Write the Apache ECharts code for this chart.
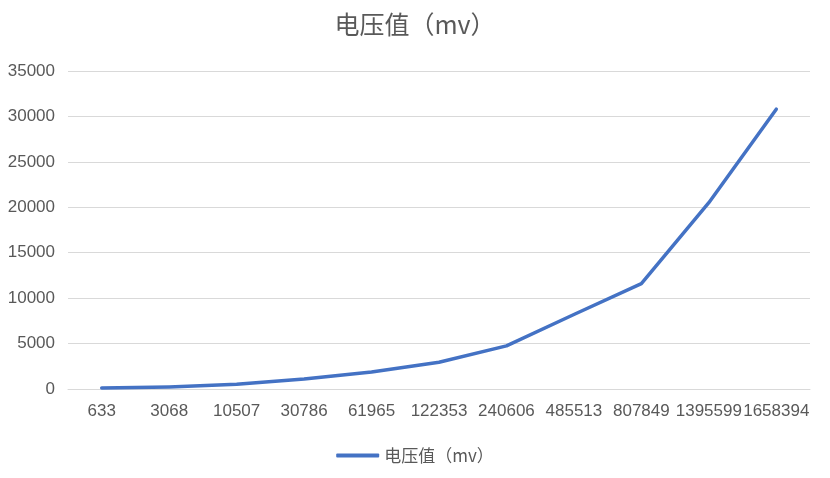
<!DOCTYPE html>
<html>
<head>
<meta charset="utf-8">
<script src="https://cdn.jsdelivr.net/npm/echarts@6/dist/echarts.min.js"></script>
<style>
	html, body { margin: 0; padding: 0; background: #fff; }
	#main { width: 830px; height: 478px; }
</style>
</head>
<body>
<div id="main"></div>
<script>
// 电压值折线图
var titleText = '电压值（mv）';
var categories = ['633', '3068', '10507', '30786', '61965', '122353', '240606', '485513', '807849', '1395599', '1658394'];
var voltage = [100, 230, 520, 1100, 1870, 2950, 4750, 8200, 11600, 20500, 30800];

var textColor = '#595959';
var gridColor = '#d9d9d9';
var numFont = '"Liberation Sans", "Noto Sans CJK SC", sans-serif';
var cjkFont = '"Noto Sans CJK SC", "Liberation Sans", sans-serif';

var dom = document.getElementById('main');
var myChart = echarts.init(dom);

var option = {
	backgroundColor : '#fff',
	animation : false,
	title : {
		text : titleText,
		left : 'center',
		top : 7,
		textStyle : {
			color : textColor,
			fontSize : 25,
			fontWeight : 'normal',
			fontFamily : cjkFont
		}
	},
	legend : {
		data : [ titleText ],
		bottom : 9,
		left : 'center',
		icon : 'roundRect',
		itemWidth : 43,
		itemHeight : 4,
		itemGap : 10,
		textStyle : {
			color : textColor,
			fontSize : 17,
			fontFamily : cjkFont
		}
	},
	grid : {
		left : 68,
		right : 20,
		top : 71,
		bottom : 89,
		containLabel : false
	},
	xAxis : {
		type : 'category',
		data : categories,
		boundaryGap : true,
		axisLine : {
			lineStyle : {
				color : gridColor,
				width : 1
			}
		},
		axisTick : { show : false },
		axisLabel : {
			interval : 0,
			margin : 14,
			color : textColor,
			fontSize : 17,
			fontFamily : numFont
		}
	},
	yAxis : {
		type : 'value',
		min : 0,
		max : 35000,
		interval : 5000,
		axisLine : { show : false },
		axisTick : { show : false },
		axisLabel : {
			margin : 13,
			color : textColor,
			fontSize : 17,
			fontFamily : numFont,
			formatter : function (v) {
				return String(v);
			}
		},
		splitLine : {
			lineStyle : {
				color : gridColor,
				width : 1
			}
		}
	},
	series : [ {
		name : titleText,
		type : 'line',
		data : voltage,
		showSymbol : false,
		symbol : 'none',
		itemStyle : { color : '#4472C4' },
		lineStyle : {
			color : '#4472C4',
			width : 3.5,
			cap : 'round',
			join : 'round'
		}
	} ]
};

myChart.setOption(option, true);
</script>
</body>
</html>
